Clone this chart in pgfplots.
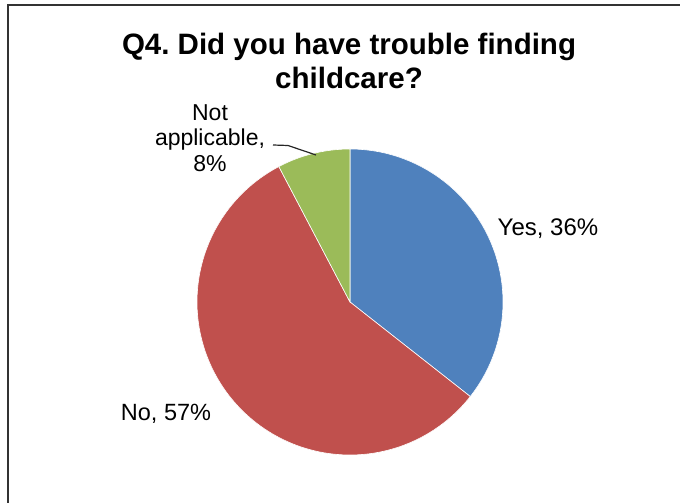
\documentclass[border=0pt]{standalone}
\usepackage{pgfplots}
\pgfplotsset{compat=1.18}
\usepackage{fontspec}
\setmainfont{Liberation Sans}
\definecolor{pieblue}{HTML}{4F81BD}
\definecolor{piered}{HTML}{C0504D}
\definecolor{piegreen}{HTML}{9BBB59}
% values (percent)
\def\vYes{35.6}
\def\vNo{56.7}
\def\vNA{7.7}
\begin{document}
\frenchspacing
\begin{tikzpicture}
\begin{axis}[
  width=680pt, height=503pt, scale only axis,
  xmin=0, xmax=680, ymin=0, ymax=503,
  hide axis, clip=false,
]
% slices, clockwise from 12 o'clock
\addplot[fill=pieblue, draw=white, line width=0.6pt, domain={90-3.6*\vYes}:90, samples=80]
  ({350+153*cos(x)},{201+153*sin(x)}) -- (axis cs:350,201) -- cycle;
\addplot[fill=piered, draw=white, line width=0.6pt, domain={90-3.6*(\vYes+\vNo)}:{90-3.6*\vYes}, samples=120]
  ({350+153*cos(x)},{201+153*sin(x)}) -- (axis cs:350,201) -- cycle;
\addplot[fill=piegreen, draw=white, line width=0.6pt, domain={90-3.6*(\vYes+\vNo+\vNA)}:{90-3.6*(\vYes+\vNo)}, samples=40]
  ({350+153*cos(x)},{201+153*sin(x)}) -- (axis cs:350,201) -- cycle;
% frame
\draw[line width=1.8pt, black!80] (axis cs:8,0) -- (axis cs:8,498) -- (axis cs:680,498);
% title
\node[font=\fontsize{29.5}{34}\selectfont\bfseries, align=center, anchor=center] at (axis cs:349,442)
  {Q4. Did you have trouble finding\\childcare?};
% labels
\node[font=\fontsize{23}{25.5}\selectfont, align=center, anchor=center] at (axis cs:210,365)
  {Not\\applicable,\\8\%};
\node[font=\fontsize{24}{26}\selectfont, anchor=center] at (axis cs:548,274) {Yes, 36\%};
\node[font=\fontsize{23.5}{26}\selectfont, anchor=center] at (axis cs:166,89) {No, 57\%};
% leader line
\draw[black!85, line width=1.2pt] (axis cs:273,358) -- (axis cs:288,357.5) -- (axis cs:316,348);
\end{axis}
\pgfresetboundingbox
\path (current axis.south west) rectangle (current axis.north east);
\end{tikzpicture}
\end{document}
